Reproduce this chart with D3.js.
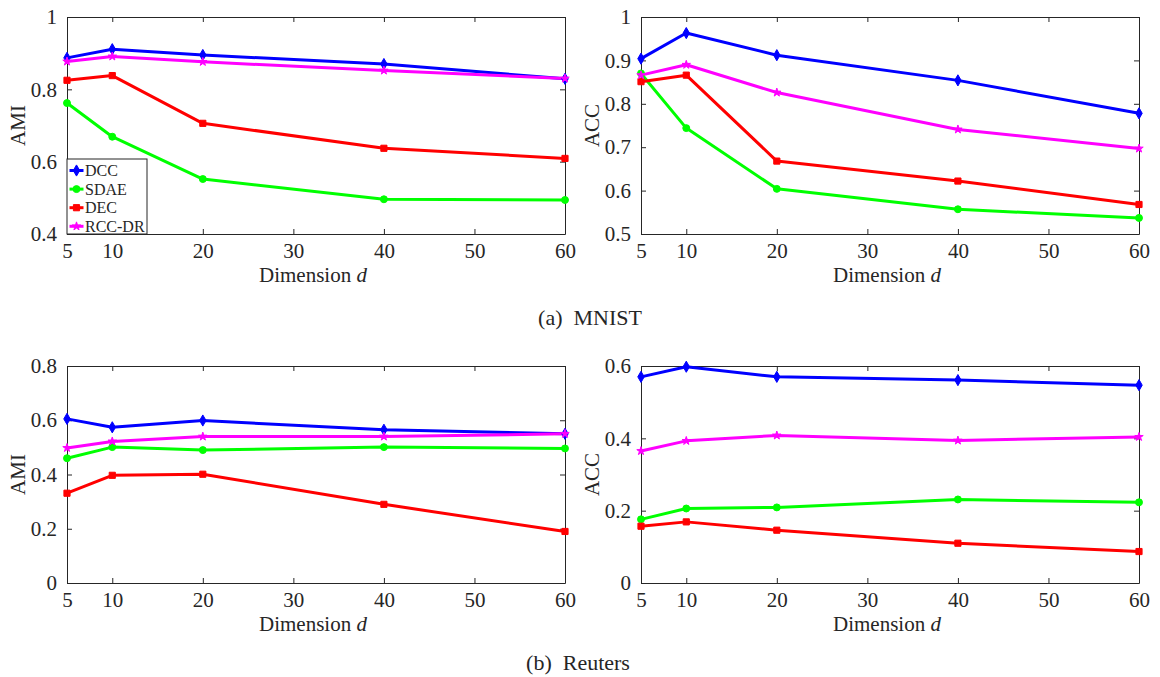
<!DOCTYPE html>
<html>
<head>
<meta charset="utf-8">
<script src="https://cdn.jsdelivr.net/npm/d3@7"></script>
<style>
  html, body { margin: 0; padding: 0; background: #fff; }
  svg { display: block; }
</style>
</head>
<body>
<svg id="chart" width="1160" height="677"></svg>
<script>
// ---------------- data ----------------
const dims = [5, 10, 20, 40, 60];
const xTicks = [5, 10, 20, 30, 40, 50, 60];
const methods = ["DCC", "SDAE", "DEC", "RCC-DR"];
const colors = ["#0000ff", "#00ff00", "#ff0000", "#ff00ff"];

// MNIST AMI
const mnistAMI_DCC   = [0.887, 0.911, 0.895, 0.870, 0.829];
const mnistAMI_SDAE  = [0.762, 0.669, 0.552, 0.496, 0.494];
const mnistAMI_DEC   = [0.825, 0.838, 0.706, 0.637, 0.609];
const mnistAMI_RCCDR = [0.877, 0.891, 0.876, 0.852, 0.830];
// MNIST ACC
const mnistACC_DCC   = [0.904, 0.963, 0.912, 0.854, 0.778];
const mnistACC_SDAE  = [0.870, 0.744, 0.604, 0.557, 0.537];
const mnistACC_DEC   = [0.851, 0.866, 0.668, 0.622, 0.568];
const mnistACC_RCCDR = [0.866, 0.890, 0.826, 0.741, 0.697];
// Reuters AMI
const reutersAMI_DCC   = [0.605, 0.574, 0.599, 0.565, 0.550];
const reutersAMI_SDAE  = [0.460, 0.501, 0.490, 0.501, 0.496];
const reutersAMI_DEC   = [0.331, 0.397, 0.401, 0.290, 0.190];
const reutersAMI_RCCDR = [0.498, 0.522, 0.540, 0.540, 0.550];
// Reuters ACC
const reutersACC_DCC   = [0.570, 0.598, 0.570, 0.561, 0.547];
const reutersACC_SDAE  = [0.176, 0.206, 0.209, 0.231, 0.223];
const reutersACC_DEC   = [0.157, 0.169, 0.146, 0.110, 0.087];
const reutersACC_RCCDR = [0.365, 0.393, 0.408, 0.394, 0.404];

const yTicksMnistAMI = [0.4, 0.6, 0.8, 1];
const yTicksMnistACC = [0.5, 0.6, 0.7, 0.8, 0.9, 1];
const yTicksReutersAMI = [0, 0.2, 0.4, 0.6, 0.8];
const yTicksReutersACC = [0, 0.2, 0.4, 0.6];

const captions = ["(a)\u00A0\u00A0MNIST", "(b)\u00A0\u00A0Reuters"];

// ---------------- layout ----------------
const FONT = "'Liberation Serif', 'Times New Roman', Times, serif";
const svg = d3.select("#chart");
const axisColor = "#262626";
const panels = [
  { x0: 67, x1: 565, y0: 17, y1: 234, domain: [0.4, 1], ticks: yTicksMnistAMI, ylabel: "AMI", series: [mnistAMI_DCC, mnistAMI_SDAE, mnistAMI_DEC, mnistAMI_RCCDR], legend: true },
  { x0: 641, x1: 1139, y0: 17, y1: 234, domain: [0.5, 1], ticks: yTicksMnistACC, ylabel: "ACC", series: [mnistACC_DCC, mnistACC_SDAE, mnistACC_DEC, mnistACC_RCCDR] },
  { x0: 67, x1: 565, y0: 366, y1: 583, domain: [0, 0.8], ticks: yTicksReutersAMI, ylabel: "AMI", series: [reutersAMI_DCC, reutersAMI_SDAE, reutersAMI_DEC, reutersAMI_RCCDR] },
  { x0: 641, x1: 1139, y0: 366, y1: 583, domain: [0, 0.6], ticks: yTicksReutersACC, ylabel: "ACC", series: [reutersACC_DCC, reutersACC_SDAE, reutersACC_DEC, reutersACC_RCCDR] }
];

const symbolTypes = [d3.symbolDiamond, d3.symbolCircle, d3.symbolSquare, d3.symbolStar];
const symbolSizes = [36, 38, 38, 22];

function styleText(sel, size) {
  return sel.style("font-family", FONT).style("font-size", size + "px").style("fill", axisColor);
}

panels.forEach(p => {
  const x = d3.scaleLinear().domain([5, 60]).range([p.x0, p.x1]);
  const y = d3.scaleLinear().domain(p.domain).range([p.y1, p.y0]);
  const g = svg.append("g");

  const tickLen = 5;
  const bottom = g.append("g").attr("transform", `translate(0,${p.y1})`)
    .call(d3.axisBottom(x).tickValues(xTicks).tickSize(-tickLen).tickPadding(tickLen + 4).tickSizeOuter(0));
  const top = g.append("g").attr("transform", `translate(0,${p.y0})`)
    .call(d3.axisTop(x).tickValues(xTicks).tickSize(-tickLen).tickFormat("").tickSizeOuter(0));
  const left = g.append("g").attr("transform", `translate(${p.x0},0)`)
    .call(d3.axisLeft(y).tickValues(p.ticks).tickSize(-tickLen).tickPadding(tickLen + 5).tickFormat(d3.format("~g")).tickSizeOuter(0));
  const right = g.append("g").attr("transform", `translate(${p.x1},0)`)
    .call(d3.axisRight(y).tickValues(p.ticks).tickSize(-tickLen).tickFormat("").tickSizeOuter(0));
  [bottom, top, left, right].forEach(a => {
    a.attr("font-family", null).attr("font-size", null);
    a.select(".domain").attr("stroke", axisColor).attr("stroke-width", 1);
    a.selectAll(".tick line").attr("stroke", axisColor).attr("stroke-width", 1);
    styleText(a.selectAll(".tick text"), 21);
  });
  bottom.selectAll(".tick text").attr("dy", "0.71em");

  styleText(g.append("text"), 21)
    .attr("transform", `translate(${p.x0 - 49},${(p.y0 + p.y1) / 2}) rotate(-90)`)
    .attr("text-anchor", "middle").attr("dy", "0.35em")
    .text(p.ylabel);
  const xl = styleText(g.append("text"), 21)
    .attr("x", (p.x0 + p.x1) / 2 - 3).attr("y", p.y1 + 48)
    .attr("text-anchor", "middle");
  xl.append("tspan").text("Dimension ");
  xl.append("tspan").style("font-style", "italic").text("d");

  const line = d3.line().x((d, i) => x(dims[i])).y(d => y(d));
  p.series.forEach((s, k) => {
    g.append("path").datum(s)
      .attr("d", line).attr("fill", "none")
      .attr("stroke", colors[k]).attr("stroke-width", 3)
      .attr("stroke-linejoin", "round");
  });
  p.series.forEach((s, k) => {
    g.selectAll(null).data(s).enter().append("path")
      .attr("transform", (d, i) => `translate(${x(dims[i])},${y(d)})`)
      .attr("d", d3.symbol().type(symbolTypes[k]).size(symbolSizes[k]))
      .attr("fill", colors[k]).attr("stroke", colors[k]).attr("stroke-width", 1);
  });

  if (p.legend) {
    const lx = p.x0, ly = p.y1 - 75, lw = 80, lh = 75;
    const lg = g.append("g");
    lg.append("rect").attr("x", lx).attr("y", ly).attr("width", lw).attr("height", lh)
      .attr("fill", "#fff").attr("stroke", axisColor).attr("stroke-width", 1);
    methods.forEach((m, k) => {
      const yy = ly + 11.5 + k * 18.6;
      lg.append("line").attr("x1", lx + 2.5).attr("x2", lx + 16.5).attr("y1", yy).attr("y2", yy)
        .attr("stroke", colors[k]).attr("stroke-width", 3);
      lg.append("path").attr("transform", `translate(${lx + 9.5},${yy})`)
        .attr("d", d3.symbol().type(symbolTypes[k]).size(symbolSizes[k]))
        .attr("fill", colors[k]).attr("stroke", colors[k]).attr("stroke-width", 1);
      styleText(lg.append("text"), 16).attr("x", lx + 18).attr("y", yy).attr("dy", "0.35em")
        .text(m);
    });
  }
});

styleText(svg.append("text"), 22).attr("x", 590).attr("y", 325).attr("text-anchor", "middle")
  .text(captions[0]);
styleText(svg.append("text"), 22).attr("x", 578).attr("y", 670).attr("text-anchor", "middle")
  .text(captions[1]);
</script>
</body>
</html>
